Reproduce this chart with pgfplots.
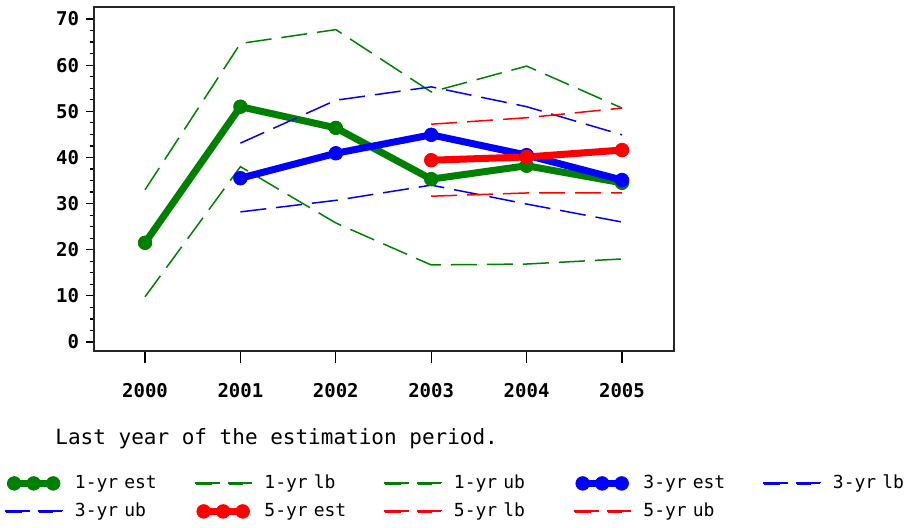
\documentclass[border=0pt]{standalone}
\usepackage{fontspec}
\setmonofont{DejaVu Sans Mono}
\usepackage{pgfplots}
\pgfplotsset{compat=1.18}
\definecolor{dgreen}{RGB}{0,128,0}
\begin{document}
\begin{tikzpicture}
\useasboundingbox (0,0) rectangle (462pt,263.5pt);
\begin{axis}[
  at={(47pt,88pt)}, anchor=south west,
  width=290pt, height=172pt, scale only axis,
  xmin=1999.465, xmax=2005.545, ymin=-1.95, ymax=72.6,
  xtick={2000,...,2005}, ytick={0,10,...,70}, minor y tick num=3,
  tick align=outside, tick pos=left,
  major tick length=4pt, minor tick length=2pt,
  xtick style={/pgfplots/major tick length=6pt},
  axis line style={line width=1pt, black!85},
  tick style={line width=0.6pt, black},
  /pgf/number format/assume math mode=true,
  x tick label style={/pgf/number format/1000 sep={}, yshift=-8.5pt},
  tick label style={font=\fontsize{9.5}{11}\selectfont\ttfamily\bfseries},
  legend columns=5,
  legend style={at={(axis description cs:-0.1534,-0.3576)}, anchor=north west,
    draw=none, fill=none, inner sep=0pt,
    font=\fontsize{9}{10}\selectfont\ttfamily,
    nodes={inner sep=0pt, text height=7pt, text depth=2pt},
    /tikz/every odd column/.append style={column sep=6pt},
    /tikz/every even column/.append style={text width=60pt, align=left},
    row sep=5pt},
  estline/.style={color=#1, line width=3.5pt, mark=*, mark size=3.4pt, mark options={line width=0.4pt},
    legend image code/.code={\draw[color=#1, line width=3.5pt, mark=*, mark size=3.4pt, mark options={line width=0.4pt}] plot coordinates {(4pt,0pt) (13.75pt,0pt) (23.5pt,0pt)};}},
  bndline/.style={color=#1, line width=0.75pt, dash pattern=on 13pt off 5pt,
    legend image code/.code={\fill[#1] (0pt,-0.5pt) rectangle (12pt,0.5pt); \fill[#1] (16.5pt,-0.5pt) rectangle (28pt,0.5pt);}},
]
\addplot[estline=dgreen] coordinates {(2000,21.5) (2001,51) (2002,46.4) (2003,35.3) (2004,38.2) (2005,34.5)};
\addlegendentry{1-yr est}
\addplot[bndline=dgreen] coordinates {(2000,9.8) (2001,38) (2002,25.8) (2003,16.7) (2004,16.9) (2005,18)};
\addlegendentry{1-yr lb}
\addplot[bndline=dgreen] coordinates {(2000,33) (2001,64.7) (2002,67.7) (2003,54.2) (2004,59.8) (2005,50.7)};
\addlegendentry{1-yr ub}
\addplot[estline=blue] coordinates {(2001,35.5) (2002,40.9) (2003,44.9) (2004,40.5) (2005,35.1)};
\addlegendentry{3-yr est}
\addplot[bndline=blue] coordinates {(2001,28.2) (2002,30.7) (2003,34) (2004,29.9) (2005,26)};
\addlegendentry{3-yr lb}
\addplot[bndline=blue] coordinates {(2001,43.1) (2002,52.4) (2003,55.3) (2004,51) (2005,44.9)};
\addlegendentry{3-yr ub}
\addplot[estline=red] coordinates {(2003,39.4) (2004,40.1) (2005,41.6)};
\addlegendentry{5-yr est}
\addplot[bndline=red] coordinates {(2003,31.6) (2004,32.3) (2005,32.3)};
\addlegendentry{5-yr lb}
\addplot[bndline=red] coordinates {(2003,47.2) (2004,48.6) (2005,50.7)};
\addlegendentry{5-yr ub}
\end{axis}
\node[anchor=west, font=\fontsize{10.5}{12}\selectfont\ttfamily, inner sep=0pt] at (27.5pt,44pt) {Last year of the estimation period.};
\end{tikzpicture}
\end{document}
